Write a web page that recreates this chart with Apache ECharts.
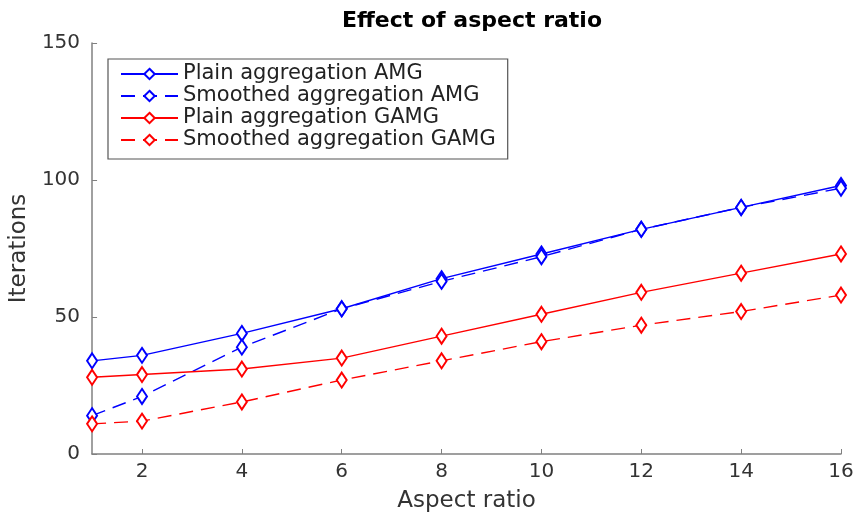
<!DOCTYPE html>
<html>
<head>
<meta charset="utf-8">
<script src="https://cdn.jsdelivr.net/npm/echarts@6/dist/echarts.min.js"></script>
<style>
  html, body { margin: 0; padding: 0; background: #fff; }
  #chart { width: 857px; height: 518px; }
</style>
</head>
<body>
<div id="chart"></div>
<script>
const aspectRatios = [1, 2, 4, 6, 8, 10, 12, 14, 16]
const plainAMG = [34, 36, 44, 53, 64, 73, 82, 90, 98]
const smoothedAMG = [14, 21, 39, 53, 63, 72, 82, 90, 97]
const plainGAMG = [28, 29, 31, 35, 43, 51, 59, 66, 73]
const smoothedGAMG = [11, 12, 19, 27, 34, 41, 47, 52, 58]
const xTicks = [2, 4, 6, 8, 10, 12, 14, 16]

const FONT = '"DejaVu Sans", Arial, sans-serif'
const AXIS_COLOR = '#808080'

const pairs = vals => aspectRatios.map((x, i) => [x, vals[i]])

const makeSeries = (name, vals, color, dashed) => ({
  name,
  type: 'line',
  data: pairs(vals),
  symbol: 'emptyDiamond',
  symbolSize: [10, 15],
  lineStyle: { color, width: 1.4, type: dashed ? [14, 8] : 'solid' },
  itemStyle: { color, borderColor: color, borderWidth: 1.3 },
  emphasis: { disabled: true },
})

const chart = echarts.init(document.getElementById('chart'), null, { renderer: 'canvas' })

chart.setOption({
  animation: false,
  backgroundColor: '#fff',
  title: {
    text: 'Effect of aspect ratio',
    left: 467,
    textAlign: 'center',
    top: 5,
    textStyle: { fontFamily: FONT, fontSize: 22, fontWeight: 'bold', color: '#000' },
  },
  legend: {
    orient: 'vertical',
    left: 108,
    top: 59,
    padding: [4, 12, 8, 12],
    itemGap: 0,
    itemWidth: 57,
    itemHeight: 13,
    backgroundColor: '#fff',
    borderColor: '#555',
    borderWidth: 1.2,
    borderRadius: 0,
    textStyle: { fontFamily: FONT, fontSize: 21, lineHeight: 22, color: '#222', padding: [0, 0, 0, 0] },
    data: ['Plain aggregation AMG', 'Smoothed aggregation AMG', 'Plain aggregation GAMG', 'Smoothed aggregation GAMG'],
  },
  grid: { left: 92, right: 16, top: 43, bottom: 63 },
  xAxis: {
    type: 'value',
    min: 1,
    max: 16,
    name: 'Aspect ratio',
    nameLocation: 'middle',
    nameGap: 36,
    nameTextStyle: { fontFamily: FONT, fontSize: 23, color: '#333' },
    axisLine: { show: true, lineStyle: { color: AXIS_COLOR, width: 1.5 } },
    axisTick: { show: true, inside: true, length: 5, customValues: xTicks, lineStyle: { color: AXIS_COLOR } },
    axisLabel: { customValues: xTicks, fontFamily: FONT, fontSize: 20, color: '#333', margin: 8 },
    splitLine: { show: false },
  },
  yAxis: {
    type: 'value',
    min: 0,
    max: 150,
    interval: 50,
    name: 'Iterations',
    nameLocation: 'middle',
    nameGap: 54,
    nameTextStyle: { fontFamily: FONT, fontSize: 23, color: '#333' },
    axisLine: { show: true, lineStyle: { color: AXIS_COLOR, width: 1.5 } },
    axisTick: { show: true, inside: true, length: 5, lineStyle: { color: AXIS_COLOR } },
    axisLabel: { fontFamily: FONT, fontSize: 20, color: '#333', margin: 12 },
    splitLine: { show: false },
  },
  series: [
    makeSeries('Plain aggregation AMG', plainAMG, '#0000ff', false),
    makeSeries('Smoothed aggregation AMG', smoothedAMG, '#0000ff', true),
    makeSeries('Plain aggregation GAMG', plainGAMG, '#ff0000', false),
    makeSeries('Smoothed aggregation GAMG', smoothedGAMG, '#ff0000', true),
  ],
})
</script>
</body>
</html>
